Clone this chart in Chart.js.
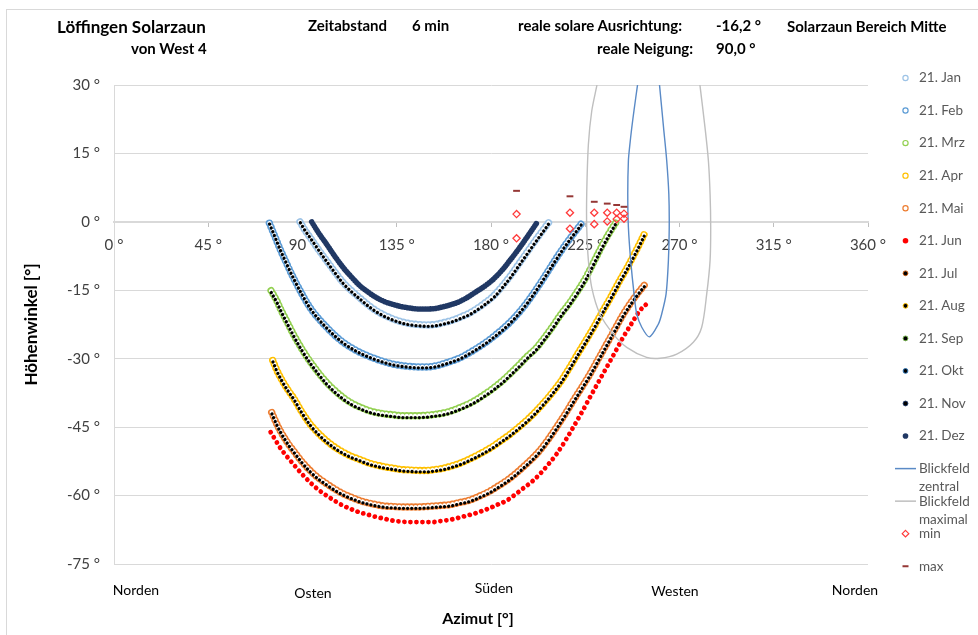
<!DOCTYPE html>
<html>
<head>
<meta charset="utf-8">
<script src="https://cdn.jsdelivr.net/npm/chart.js@4.4.1/dist/chart.umd.min.js"></script>
<style>
  html, body { margin: 0; padding: 0; background: #fff; }
  #wrap { position: relative; width: 978px; height: 635px; overflow: hidden; font-family: Lato, "Open Sans", sans-serif; }
  #frame { position: absolute; left: 6px; top: 9px; width: 1000px; height: 700px; border: 1px solid #d9d9d9; box-sizing: border-box; }
  canvas { position: absolute; left: 0; top: 0; }
  .t { position: absolute; white-space: nowrap; line-height: 1; transform: translateY(-50%); color: #000; }
  .c { transform: translate(-50%, -50%); }
  .b { font-weight: bold; }
</style>
</head>
<body>
<div id="wrap">
  <div id="frame"></div>
  <canvas id="chart" width="978" height="635"></canvas>

  <div class="t b" style="left:57px;top:26px;font-size:17px">Löffingen Solarzaun</div>
  <div class="t b" style="left:131px;top:48px;font-size:15px">von West 4</div>
  <div class="t b" style="left:308px;top:25px;font-size:15px">Zeitabstand</div>
  <div class="t b" style="left:412px;top:25px;font-size:15px">6 min</div>
  <div class="t b" style="left:518px;top:25px;font-size:15px">reale solare Ausrichtung:</div>
  <div class="t b" style="left:716px;top:25px;font-size:15px">-16,2 °</div>
  <div class="t b" style="left:787px;top:26px;font-size:15px">Solarzaun Bereich Mitte</div>
  <div class="t b" style="left:597px;top:48px;font-size:15px">reale Neigung:</div>
  <div class="t b" style="left:716px;top:48px;font-size:15px">90,0 °</div>

  <div class="t c" style="left:136px;top:590px;font-size:14px">Norden</div>
  <div class="t c" style="left:313px;top:593px;font-size:14px">Osten</div>
  <div class="t c" style="left:494px;top:588px;font-size:14px">Süden</div>
  <div class="t c" style="left:675px;top:591px;font-size:14px">Westen</div>
  <div class="t c" style="left:855px;top:590px;font-size:14px">Norden</div>
  <div class="t c b" style="left:478px;top:618px;font-size:16px">Azimut [°]</div>
</div>

<script>
// Sun paths: [azimuth °, elevation °], one list per date
const jan = [[88.8,0],[91.0,-1.7],[93.6,-3.4],[97.5,-6.0],[101.5,-8.5],[105.5,-11.0],[109.4,-13.3],[113.4,-15.1],[117.4,-16.7],[121.3,-18.2],[125.3,-19.5],[129.3,-20.5],[133.3,-21.3],[137.3,-21.9],[141.3,-22.3],[145.3,-22.5],[149.3,-22.6],[153.3,-22.5],[157.3,-22.1],[161.3,-21.6],[165.3,-20.9],[169.3,-20.1],[173.3,-19.0],[177.3,-17.7],[181.3,-16.2],[185.3,-14.1],[189.3,-11.8],[193.3,-9.2],[197.3,-6.6],[201.3,-4.0],[205.3,-1.5],[207.8,0]];
const feb = [[74.2,-0.3],[76.0,-2.3],[77.7,-4.2],[79.6,-6.3],[81.6,-8.3],[83.6,-10.3],[85.6,-12.2],[89.6,-15.7],[93.6,-18.8],[97.5,-21.1],[101.5,-23.1],[105.5,-24.9],[109.4,-26.4],[113.4,-27.6],[117.4,-28.6],[121.3,-29.4],[125.3,-30.1],[129.3,-30.7],[133.3,-31.2],[137.3,-31.5],[141.3,-31.7],[145.3,-31.8],[149.3,-31.8],[153.3,-31.6],[157.3,-31.1],[161.3,-30.5],[165.3,-29.8],[169.3,-28.8],[173.3,-27.7],[177.3,-26.5],[181.3,-25.1],[185.3,-23.6],[189.3,-21.9],[193.3,-19.9],[197.3,-17.6],[201.3,-15.0],[205.3,-12.2],[209.3,-9.3],[213.3,-6.5],[217.3,-3.9],[221.3,-1.5],[223.3,-0.3]];
const mrz = [[75.0,-15.1],[77.7,-17.3],[79.6,-19.2],[81.6,-21.0],[83.6,-22.8],[85.6,-24.6],[89.6,-27.8],[93.6,-30.6],[97.5,-33.0],[101.5,-35.2],[105.5,-37.0],[109.4,-38.5],[113.4,-39.7],[117.4,-40.6],[121.3,-41.3],[125.3,-41.8],[129.3,-42.1],[133.3,-42.3],[137.3,-42.5],[141.3,-42.5],[145.3,-42.5],[149.3,-42.4],[153.3,-42.2],[157.3,-41.9],[161.3,-41.4],[165.3,-40.7],[169.3,-39.9],[173.3,-38.9],[177.3,-37.7],[181.3,-36.4],[185.3,-34.9],[189.3,-33.2],[193.3,-31.4],[197.3,-29.5],[201.3,-27.8],[205.3,-25.5],[209.3,-23.0],[213.3,-20.3],[217.3,-17.9],[221.3,-15.2],[225.3,-12.2],[229.3,-8.6],[233.3,-5.0],[236.5,-2.4],[239.7,-0.1]];
const apr = [[75.8,-30.4],[77.7,-32.5],[79.6,-34.2],[81.6,-35.8],[83.6,-37.2],[85.6,-38.5],[89.6,-41.6],[93.6,-44.3],[97.5,-46.3],[101.5,-48.0],[105.5,-49.4],[109.4,-50.5],[113.4,-51.4],[117.4,-52.1],[121.3,-52.8],[125.3,-53.3],[129.3,-53.7],[133.3,-54.0],[137.3,-54.3],[141.3,-54.4],[145.3,-54.5],[149.3,-54.5],[153.3,-54.3],[157.3,-54.0],[161.3,-53.5],[165.3,-52.9],[169.3,-52.1],[173.3,-51.2],[177.3,-50.2],[181.3,-49.1],[185.3,-47.8],[189.3,-46.5],[193.3,-45.0],[197.3,-43.4],[201.3,-41.6],[205.3,-39.6],[209.3,-37.4],[213.3,-35.0],[217.3,-32.1],[221.3,-29.0],[225.3,-26.0],[229.3,-22.9],[233.3,-19.6],[237.3,-16.4],[241.3,-13.0],[245.3,-9.8],[249.3,-6.3],[251.8,-4.0],[253.8,-2.1]];
const mai = [[75.3,-41.8],[77.7,-44.3],[79.6,-46.0],[81.6,-47.5],[83.6,-48.9],[85.6,-50.1],[89.6,-52.5],[93.6,-54.5],[97.5,-56.1],[101.5,-57.4],[105.5,-58.6],[109.4,-59.6],[113.4,-60.4],[117.4,-61.1],[121.3,-61.6],[125.3,-62.0],[129.3,-62.3],[133.3,-62.4],[137.3,-62.5],[141.3,-62.5],[145.3,-62.5],[149.3,-62.4],[152.5,-62.3],[155.6,-62.2],[160.4,-62.0],[165.2,-61.5],[168.4,-61.2],[171.6,-60.7],[175.6,-59.9],[179.6,-59.0],[183.5,-57.9],[187.5,-56.7],[191.5,-55.3],[195.4,-53.7],[199.4,-52.0],[203.3,-50.1],[207.3,-47.7],[211.3,-45.0],[215.3,-42.2],[219.3,-39.2],[223.3,-36.3],[227.2,-33.4],[231.2,-30.1],[235.2,-26.8],[239.2,-23.5],[243.1,-20.3],[247.1,-17.5],[251.0,-15.1],[254.3,-13.3]];
const jun = [[74.8,-46.1],[77.7,-48.3],[79.6,-49.7],[81.6,-50.9],[83.6,-52.0],[85.6,-53.1],[89.6,-55.2],[93.6,-57.1],[97.5,-58.7],[101.5,-60.0],[105.5,-61.2],[109.4,-62.2],[113.4,-63.0],[117.4,-63.7],[121.3,-64.2],[125.3,-64.7],[129.3,-65.1],[133.3,-65.5],[137.3,-65.7],[141.3,-65.8],[145.3,-65.8],[149.3,-65.8],[152.5,-65.8],[155.6,-65.6],[160.4,-65.3],[165.2,-64.8],[168.4,-64.4],[171.6,-64.0],[175.6,-63.4],[179.6,-62.7],[183.5,-61.9],[187.5,-61.1],[191.5,-59.8],[195.4,-58.4],[199.4,-57.0],[203.3,-55.3],[207.3,-53.2],[211.3,-50.9],[215.3,-48.1],[219.3,-45.0],[223.3,-41.8],[227.2,-38.5],[231.2,-35.2],[235.2,-31.9],[239.2,-28.6],[243.1,-25.3],[247.1,-22.3],[251.0,-19.5],[254.3,-18.0]];
const jul = [[75.4,-42.1],[77.8,-44.6],[79.7,-46.3],[81.7,-47.8],[83.7,-49.2],[85.7,-50.4],[89.7,-52.8],[93.7,-54.8],[97.6,-56.4],[101.6,-57.7],[105.6,-58.9],[109.5,-59.9],[113.5,-60.7],[117.5,-61.4],[121.4,-61.9],[125.4,-62.3],[129.4,-62.6],[133.4,-62.7],[137.4,-62.8],[141.4,-62.8],[145.4,-62.8],[149.4,-62.7],[152.6,-62.6],[155.7,-62.5],[160.5,-62.3],[165.3,-61.8],[168.5,-61.5],[171.7,-61.0],[175.7,-60.2],[179.7,-59.3],[183.6,-58.2],[187.6,-57.0],[191.6,-55.6],[195.5,-54.0],[199.5,-52.3],[203.4,-50.4],[207.4,-48.0],[211.4,-45.3],[215.4,-42.5],[219.4,-39.5],[223.4,-36.6],[227.3,-33.7],[231.3,-30.4],[235.3,-27.1],[239.3,-23.8],[243.2,-20.6],[247.2,-17.8],[251.1,-15.4],[254.3,-13.6]];
const aug = [[75.9,-30.7],[77.8,-32.8],[79.7,-34.5],[81.7,-36.1],[83.7,-37.5],[85.7,-38.8],[89.7,-41.9],[93.7,-44.6],[97.6,-46.6],[101.6,-48.3],[105.6,-49.7],[109.5,-50.8],[113.5,-51.7],[117.5,-52.4],[121.4,-53.1],[125.4,-53.6],[129.4,-54.0],[133.4,-54.3],[137.4,-54.6],[141.4,-54.7],[145.4,-54.8],[149.4,-54.8],[153.4,-54.6],[157.4,-54.3],[161.4,-53.8],[165.4,-53.2],[169.4,-52.4],[173.4,-51.5],[177.4,-50.5],[181.4,-49.4],[185.4,-48.1],[189.4,-46.8],[193.4,-45.3],[197.4,-43.7],[201.4,-41.9],[205.4,-39.9],[209.4,-37.7],[213.4,-35.3],[217.4,-32.4],[221.4,-29.3],[225.4,-26.3],[229.4,-23.2],[233.4,-19.9],[237.4,-16.7],[241.4,-13.3],[245.4,-10.1],[249.4,-6.6],[251.9,-4.3],[253.8,-2.5]];
const sep = [[75.1,-15.5],[77.8,-17.7],[79.7,-19.6],[81.7,-21.4],[83.7,-23.2],[85.7,-25.0],[89.7,-28.2],[93.7,-31.0],[97.6,-33.4],[101.6,-35.6],[105.6,-37.4],[109.5,-38.9],[113.5,-40.1],[117.5,-41.0],[121.4,-41.7],[125.4,-42.2],[129.4,-42.5],[133.4,-42.7],[137.4,-42.9],[141.4,-42.9],[145.4,-42.9],[149.4,-42.8],[153.4,-42.6],[157.4,-42.3],[161.4,-41.8],[165.4,-41.1],[169.4,-40.3],[173.4,-39.3],[177.4,-38.1],[181.4,-36.8],[185.4,-35.3],[189.4,-33.6],[193.4,-31.8],[197.4,-29.9],[201.4,-28.2],[205.4,-25.9],[209.4,-23.4],[213.4,-20.7],[217.4,-18.3],[221.4,-15.6],[225.4,-12.6],[229.4,-9.0],[233.4,-5.4],[236.6,-2.8],[239.5,-0.5]];
const okt = [[74.3,-0.5],[76.1,-2.5],[77.8,-4.4],[79.7,-6.5],[81.7,-8.5],[83.7,-10.5],[85.7,-12.4],[89.7,-15.9],[93.7,-19.0],[97.6,-21.3],[101.6,-23.3],[105.6,-25.1],[109.5,-26.6],[113.5,-27.8],[117.5,-28.8],[121.4,-29.6],[125.4,-30.3],[129.4,-30.9],[133.4,-31.4],[137.4,-31.7],[141.4,-31.9],[145.4,-32.0],[149.4,-32.0],[153.4,-31.8],[157.4,-31.3],[161.4,-30.7],[165.4,-30.0],[169.4,-29.0],[173.4,-27.9],[177.4,-26.7],[181.4,-25.3],[185.4,-23.8],[189.4,-22.1],[193.4,-20.1],[197.4,-17.8],[201.4,-15.2],[205.4,-12.4],[209.4,-9.5],[213.4,-6.7],[217.4,-4.1],[221.4,-1.7],[223.2,-0.6]];
const nov = [[89.0,-0.2],[91.2,-1.9],[93.8,-3.6],[97.7,-6.2],[101.7,-8.8],[105.7,-11.3],[109.6,-13.6],[113.6,-15.4],[117.6,-17.0],[121.5,-18.5],[125.5,-19.8],[129.5,-20.8],[133.5,-21.6],[137.5,-22.2],[141.5,-22.6],[145.5,-22.8],[149.5,-22.9],[153.5,-22.8],[157.5,-22.4],[161.5,-21.9],[165.5,-21.2],[169.5,-20.4],[173.5,-19.3],[177.5,-18.0],[181.5,-16.5],[185.5,-14.4],[189.5,-12.1],[193.5,-9.5],[197.5,-6.9],[201.5,-4.3],[205.5,-1.8],[207.9,-0.2]];
const dez = [[94.4,0],[97.5,-2.3],[101.5,-4.9],[105.5,-7.6],[109.4,-10.0],[113.4,-12.1],[117.4,-14.0],[121.3,-15.4],[125.3,-16.6],[129.3,-17.5],[133.3,-18.1],[137.3,-18.6],[141.3,-18.9],[145.3,-19.1],[149.3,-19.1],[153.3,-19.0],[157.3,-18.6],[161.3,-18.1],[165.3,-17.4],[169.3,-16.4],[173.3,-15.2],[177.3,-14.0],[181.3,-12.5],[185.3,-10.6],[189.3,-8.3],[193.3,-5.9],[197.3,-3.3],[200.3,-1.3],[202.2,0]];

// Field of view outlines
const blickZentral = [[251.2,34],[249.9,29.8],[248.3,24.5],[247.2,20.6],[246.2,16.5],[245.6,13.4],[245.3,6.1],[245.6,-1.2],[246.7,-8.5],[248.3,-15.8],[249.6,-20.2],[252.0,-23.1],[255.6,-25.2],[259.9,-22.4],[261.5,-20.2],[263.6,-15.8],[264.7,-8.5],[265.1,-1.2],[264.9,6.1],[263.9,13.4],[262.4,20.6],[260.5,29.8],[259.6,34]];
const blickMaximal = [[232.3,34],[230.5,29.8],[228.1,24.3],[226.5,17.0],[225.7,6.1],[225.7,-1.2],[226.5,-8.5],[228.1,-14.4],[232.0,-20.2],[238.4,-24.6],[244.8,-27.5],[254.3,-29.7],[260.7,-29.9],[268.7,-29.0],[276.6,-26.4],[280.6,-23.1],[283.0,-15.8],[284.6,-8.5],[284.9,-1.2],[284.6,6.1],[283.8,13.4],[282.2,20.6],[279.8,29.8],[278.7,34]];

// Shading limits
const minPts = [[192.2,1.7],[192.2,-3.6],[217.7,2.0],[217.7,-1.5],[229.3,2.0],[229.3,-0.5],[235.5,2.0],[235.5,0.1],[240.0,2.0],[240.0,0.6],[243.5,1.8],[243.5,0.7]];
const maxPts = [[192.2,6.8],[217.7,5.6],[229.3,4.4],[235.5,4.0],[240.0,3.7],[243.5,3.3]];

const FONT = 'Lato, "Open Sans", sans-serif';
const toXY = arr => arr.map(p => ({ x: p[0], y: p[1] }));

// Series definitions in drawing order (later = on top)
const series = [
  { label: '21. Jan', data: jan, kind: 'ring', color: '#9DC3E6' },
  { label: '21. Feb', data: feb, kind: 'ring', color: '#5B9BD5' },
  { label: '21. Mrz', data: mrz, kind: 'ring', color: '#92D050' },
  { label: '21. Apr', data: apr, kind: 'ring', color: '#FFC000' },
  { label: '21. Mai', data: mai, kind: 'ring', color: '#ED7D31' },
  { label: '21. Jun', data: jun, kind: 'fill', color: '#FF0000', size: 4.8, gap: 6 },
  { label: '21. Jul', data: jul, kind: 'dot', color: '#000000', edge: '#C55A11' },
  { label: '21. Aug', data: aug, kind: 'dot', color: '#000000', edge: '#FFC000' },
  { label: '21. Sep', data: sep, kind: 'dot', color: '#000000', edge: '#70AD47' },
  { label: '21. Okt', data: okt, kind: 'dot', color: '#000000', edge: '#2E75B6' },
  { label: '21. Nov', data: nov, kind: 'dot', color: '#000000', edge: '#1F3864' },
  { label: '21. Dez', data: dez, kind: 'fill', color: '#203864', size: 5.6, gap: 2.6 },
  { label: 'Blickfeld zentral', data: blickZentral, kind: 'line', color: '#5A8AC6' },
  { label: 'Blickfeld maximal', data: blickMaximal, kind: 'line', color: '#BFBFBF' },
  { label: 'min', data: minPts, kind: 'diamond', color: '#FF3B3B' },
  { label: 'max', data: maxPts, kind: 'dash', color: '#953735' }
];

const RING_GAP = 4.1;
const datasets = [];
function dottedPath(d, color, width, gap) {
  return {
    type: 'line', label: d.label, data: toXY(d.data), clip: 0,
    borderColor: color, borderWidth: width, borderDash: [0.01, gap],
    borderCapStyle: 'round', borderJoinStyle: 'round',
    cubicInterpolationMode: 'monotone', pointRadius: 0, pointHoverRadius: 0, fill: false
  };
}
series.forEach(s => {
  if (s.kind === 'ring') {
    datasets.push(dottedPath(s, s.color, 7.4, RING_GAP));
    datasets.push(dottedPath(s, '#FFFFFF', 4.2, RING_GAP));
  } else if (s.kind === 'dot') {
    datasets.push(dottedPath(s, s.color, 3.3, RING_GAP));
  } else if (s.kind === 'fill') {
    datasets.push(dottedPath(s, s.color, s.size, s.gap));
  } else if (s.kind === 'line') {
    datasets.push({ type: 'line', label: s.label, data: toXY(s.data), clip: 0,
      borderColor: s.color, borderWidth: 1.4, tension: 0.3,
      pointRadius: 0, pointHoverRadius: 0, fill: false });
  } else if (s.kind === 'diamond') {
    datasets.push({ type: 'scatter', label: s.label, data: toXY(s.data), clip: 0,
      pointStyle: 'rectRot', pointRadius: 3.6, borderWidth: 1.3,
      borderColor: s.color, backgroundColor: 'rgba(255,255,255,0)' });
  } else if (s.kind === 'dash') {
    datasets.push({ type: 'scatter', label: s.label, data: toXY(s.data), clip: 0,
      pointStyle: 'line', pointRadius: 3.4, borderWidth: 2,
      borderColor: s.color, backgroundColor: s.color });
  }
});
// Later entries must sit on top
datasets.forEach((ds, i) => { ds.order = datasets.length - i; });

// Legend drawn at the right edge
function drawMarker(ctx, s, x, y) {
  ctx.save();
  if (s.kind === 'ring') {
    ctx.beginPath(); ctx.arc(x, y, 2.6, 0, Math.PI * 2);
    ctx.strokeStyle = s.color; ctx.lineWidth = 1.2; ctx.stroke();
  } else if (s.kind === 'dot') {
    ctx.beginPath(); ctx.arc(x, y, 2.4, 0, Math.PI * 2);
    ctx.fillStyle = s.color; ctx.fill();
    ctx.strokeStyle = s.edge; ctx.lineWidth = 1; ctx.stroke();
  } else if (s.kind === 'fill') {
    ctx.beginPath(); ctx.arc(x, y, 2.8, 0, Math.PI * 2);
    ctx.fillStyle = s.color; ctx.fill();
  } else if (s.kind === 'line') {
    ctx.beginPath(); ctx.moveTo(895, y); ctx.lineTo(916, y);
    ctx.strokeStyle = s.color; ctx.lineWidth = 1.5; ctx.stroke();
  } else if (s.kind === 'diamond') {
    ctx.beginPath(); ctx.moveTo(x, y - 3.3); ctx.lineTo(x + 3.3, y); ctx.lineTo(x, y + 3.3); ctx.lineTo(x - 3.3, y); ctx.closePath();
    ctx.strokeStyle = s.color; ctx.lineWidth = 1.2; ctx.stroke();
  } else if (s.kind === 'dash') {
    ctx.fillStyle = s.color; ctx.fillRect(x - 3, y - 1, 6, 2);
  }
  ctx.restore();
}
const sideLegend = {
  id: 'sideLegend',
  afterDraw(chart) {
    const ctx = chart.ctx;
    ctx.save();
    ctx.font = '13.5px ' + FONT;
    ctx.textAlign = 'left';
    ctx.textBaseline = 'middle';
    series.forEach((s, i) => {
      const y = 78 + i * 32.55;
      drawMarker(ctx, s, 905.5, y);
      ctx.fillStyle = '#595959';
      let lines = [s.label];
      if (ctx.measureText(s.label).width > 56) lines = s.label.split(' ');
      lines.forEach((ln, k) => ctx.fillText(ln, 919, y + k * 18.5));
    });
    ctx.restore();
  }
};

Chart.defaults.font.family = FONT;
new Chart(document.getElementById('chart'), {
  type: 'scatter',
  data: { datasets },
  options: {
    responsive: false,
    animation: false,
    events: [],
    layout: { padding: { left: 0, right: 110, top: 85, bottom: 71 } },
    plugins: { legend: { display: false }, tooltip: { enabled: false } },
    scales: {
      x: {
        type: 'linear', position: { y: 0 }, min: 0, max: 360,
        ticks: { stepSize: 45, padding: 10, color: '#404040', font: { size: 15 }, maxRotation: 0, autoSkip: false,
                 callback: v => v + ' °' },
        grid: { drawOnChartArea: false, drawTicks: true, tickLength: 4, color: '#BFBFBF' },
        border: { color: '#D9D9D9', width: 2 }
      },
      y: {
        type: 'linear', min: -75, max: 30,
        ticks: { stepSize: 15, padding: 14, color: '#404040', font: { size: 15 }, callback: v => v + ' °' },
        grid: { color: '#D9D9D9', drawTicks: false },
        border: { color: '#D9D9D9' },
        title: { display: true, text: 'Höhenwinkel [°]', color: '#000', font: { size: 17, weight: 'bold' }, padding: { top: 21 } },
        afterFit: s => { s.width = 114; }
      }
    }
  },
  plugins: [sideLegend]
});
</script>
</body>
</html>
